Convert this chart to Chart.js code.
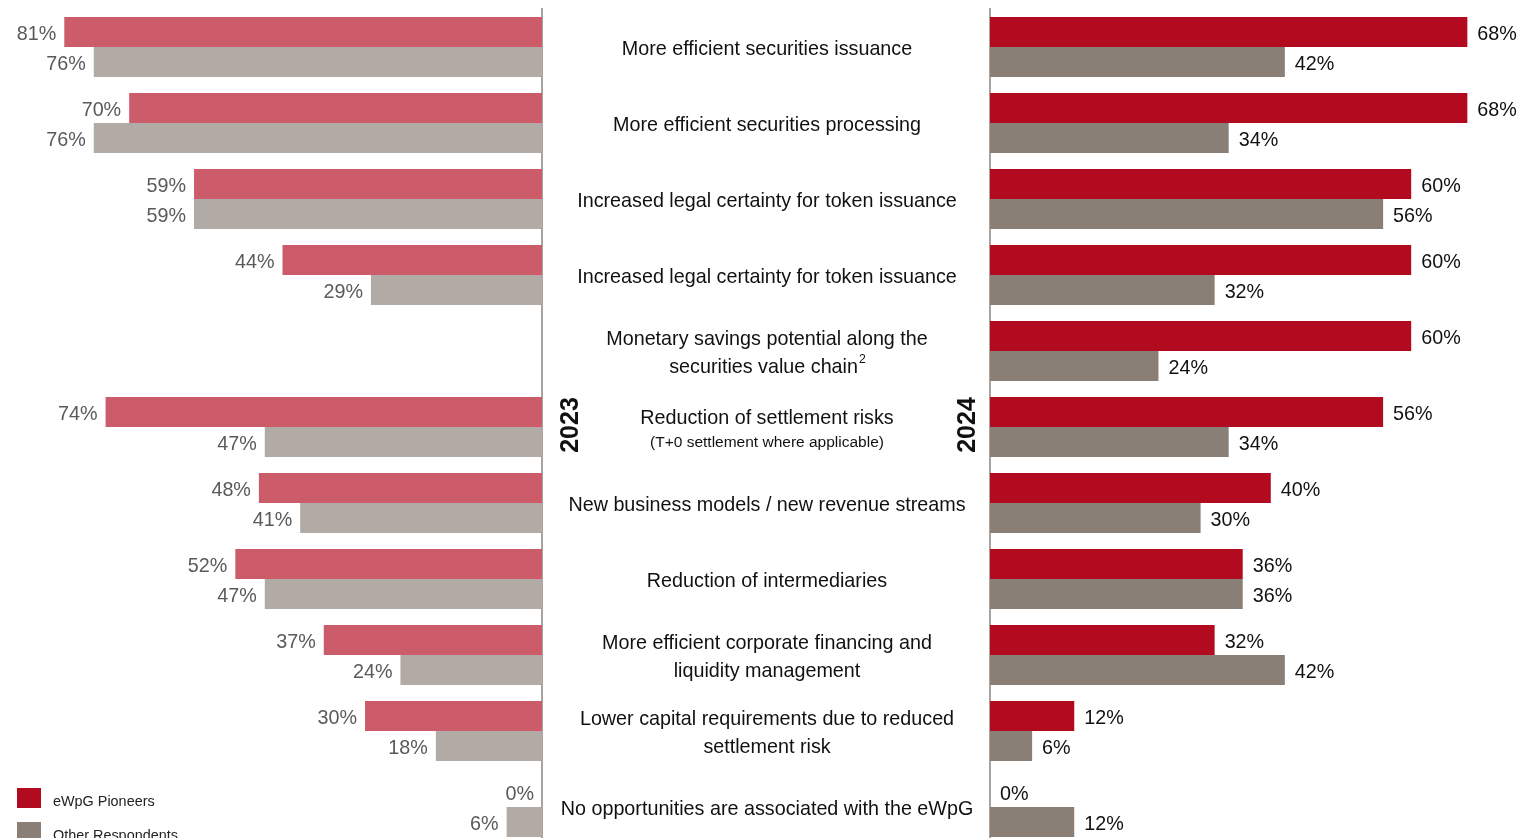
<!DOCTYPE html>
<html>
<head>
<meta charset="utf-8">
<script src="https://cdn.jsdelivr.net/npm/chart.js@4.4.1/dist/chart.umd.min.js"></script>
<style>
  html, body { margin: 0; padding: 0; background: #fff; overflow: hidden; }
  #wrap { position: relative; width: 1520px; height: 838px; }
  #left { position: absolute; left: 0; top: 0; }
  #right { position: absolute; left: 542px; top: 0; }
  .key { position: absolute; left: 17px; height: 20px; font: 15px "Liberation Sans", Arial, sans-serif; color: #222; }
  .key span { position: absolute; left: 0; top: 0; width: 24px; height: 20px; }
  .key b { position: absolute; left: 36px; top: 4px; font-weight: normal; white-space: nowrap; transform: scaleX(0.96); transform-origin: left center; }
</style>
</head>
<body>
<div id="wrap">
  <canvas id="left" width="544" height="845"></canvas>
  <canvas id="right" width="978" height="845"></canvas>
  <div class="key" style="top:788px"><span style="background:#b20a1e"></span><b>eWpG Pioneers</b></div>
  <div class="key" style="top:822px"><span style="background:#8a7f76"></span><b>Other Respondents</b></div>
</div>
<script>
// survey categories, top to bottom
var categories = [
  ["More efficient securities issuance"],
  ["More efficient securities processing"],
  ["Increased legal certainty for token issuance"],
  ["Increased legal certainty for token issuance"],
  ["Monetary savings potential along the", "securities value chain"],
  ["Reduction of settlement risks"],
  ["New business models / new revenue streams"],
  ["Reduction of intermediaries"],
  ["More efficient corporate financing and", "liquidity management"],
  ["Lower capital requirements due to reduced", "settlement risk"],
  ["No opportunities are associated with the eWpG"]
];
// small sub-notes under a label / superscripts after the last line
var subNotes = { 5: "(T+0 settlement where applicable)" };
var superscripts = { 4: "2" };

var pioneers2023 = [81, 70, 59, 44, null, 74, 48, 52, 37, 30, 0];
var others2023   = [76, 76, 59, 29, null, 47, 41, 47, 24, 18, 6];
var pioneers2024 = [68, 68, 60, 60, 60, 56, 40, 36, 32, 12, 0];
var others2024   = [42, 34, 56, 32, 24, 34, 30, 36, 42, 6, 12];

var sans = '"Liberation Sans", Arial, sans-serif';
var squeeze = 0.94;   // text is set a little condensed
var ids = categories.map(function (c, i) { return i; });

function narrowText(ctx, text, x, y, align, sx) {
  ctx.save();
  ctx.translate(x, y);
  ctx.scale(sx || squeeze, 1);
  ctx.textAlign = align;
  ctx.fillText(text, 0, 0);
  ctx.restore();
}

// percentage labels at the end of each bar
var valueLabels = {
  id: "valueLabels",
  afterDatasetsDraw: function (chart, args, opts) {
    var ctx = chart.ctx;
    ctx.save();
    ctx.font = "21px " + sans;
    ctx.fillStyle = opts.color;
    ctx.textBaseline = "middle";
    chart.data.datasets.forEach(function (ds, d) {
      chart.getDatasetMeta(d).data.forEach(function (bar, i) {
        var v = ds.data[i];
        if (v === null) return;
        if (opts.side === "left") narrowText(ctx, v + "%", bar.x - 8, bar.y + 2, "right");
        else narrowText(ctx, v + "%", bar.x + 10, bar.y + 2, "left");
      });
    });
    ctx.restore();
  }
};

// category names between the two panels, plus the year captions
var middleLabels = {
  id: "middleLabels",
  afterDraw: function (chart) {
    var ctx = chart.ctx;
    var y = chart.scales.y;
    var cx = chart.chartArea.left / 2 + 1;
    ctx.save();
    ctx.fillStyle = "#111";
    ctx.textBaseline = "middle";
    categories.forEach(function (lines, i) {
      var py = y.getPixelForValue(i) + 2;
      var top = py - (lines.length - 1) * 14;
      if (subNotes[i]) top = py - 11;
      lines.forEach(function (t, k) {
        var ly = top + k * 28;
        ctx.font = "21px " + sans;
        var sup = (k === lines.length - 1) ? superscripts[i] : null;
        if (sup) {
          var w = ctx.measureText(t).width * squeeze;
          ctx.font = "13px " + sans;
          var sw = ctx.measureText(sup).width * squeeze;
          var x0 = cx - (w + sw) / 2;
          ctx.font = "21px " + sans;
          narrowText(ctx, t, x0, ly, "left");
          ctx.font = "13px " + sans;
          narrowText(ctx, sup, x0 + w + 1, ly - 8, "left");
        } else {
          narrowText(ctx, t, cx, ly, "center");
        }
      });
      if (subNotes[i]) {
        ctx.font = "15.5px " + sans;
        narrowText(ctx, subNotes[i], cx, py + 14, "center", 1);
      }
    });
    ctx.font = "bold 25px " + sans;
    ctx.textAlign = "center";
    [["2023", 29], ["2024", chart.chartArea.left - 22]].forEach(function (yr) {
      ctx.save();
      ctx.translate(yr[1], y.getPixelForValue(5) - 2);
      ctx.rotate(-Math.PI / 2);
      ctx.fillText(yr[0], 0, 0);
      ctx.restore();
    });
    ctx.restore();
  }
};

function barOptions(reverse, xMax, yPos, yWidth) {
  return {
    indexAxis: "y",
    responsive: false,
    animation: false,
    layout: { padding: { top: 9, bottom: 0, left: 0, right: 0 } },
    plugins: { legend: { display: false }, tooltip: { enabled: false } },
    scales: {
      x: { display: false, min: 0, max: xMax, reverse: reverse },
      y: {
        position: yPos,
        grid: { display: false, drawTicks: false },
        border: { display: true, color: "#aaa39d", width: 2 },
        ticks: { display: false },
        afterFit: function (s) { s.width = yWidth; }
      }
    }
  };
}

var leftOpts = barOptions(true, 91.9, "right", 2);
leftOpts.plugins.valueLabels = { side: "left", color: "#5a5a5a" };
new Chart(document.getElementById("left"), {
  type: "bar",
  data: {
    labels: ids,
    datasets: [
      { label: "eWpG Pioneers", data: pioneers2023, backgroundColor: "#cd5c6a", categoryPercentage: 0.79, barPercentage: 1.0 },
      { label: "Other Respondents", data: others2023, backgroundColor: "#b2aaa5", categoryPercentage: 0.79, barPercentage: 1.0 }
    ]
  },
  options: leftOpts,
  plugins: [valueLabels]
});

var rightOpts = barOptions(false, 75.5, "left", 448);
rightOpts.plugins.valueLabels = { side: "right", color: "#111" };
new Chart(document.getElementById("right"), {
  type: "bar",
  data: {
    labels: ids,
    datasets: [
      { label: "eWpG Pioneers", data: pioneers2024, backgroundColor: "#b20a1e", categoryPercentage: 0.79, barPercentage: 1.0 },
      { label: "Other Respondents", data: others2024, backgroundColor: "#8a7f76", categoryPercentage: 0.79, barPercentage: 1.0 }
    ]
  },
  options: rightOpts,
  plugins: [valueLabels, middleLabels]
});
</script>
</body>
</html>
